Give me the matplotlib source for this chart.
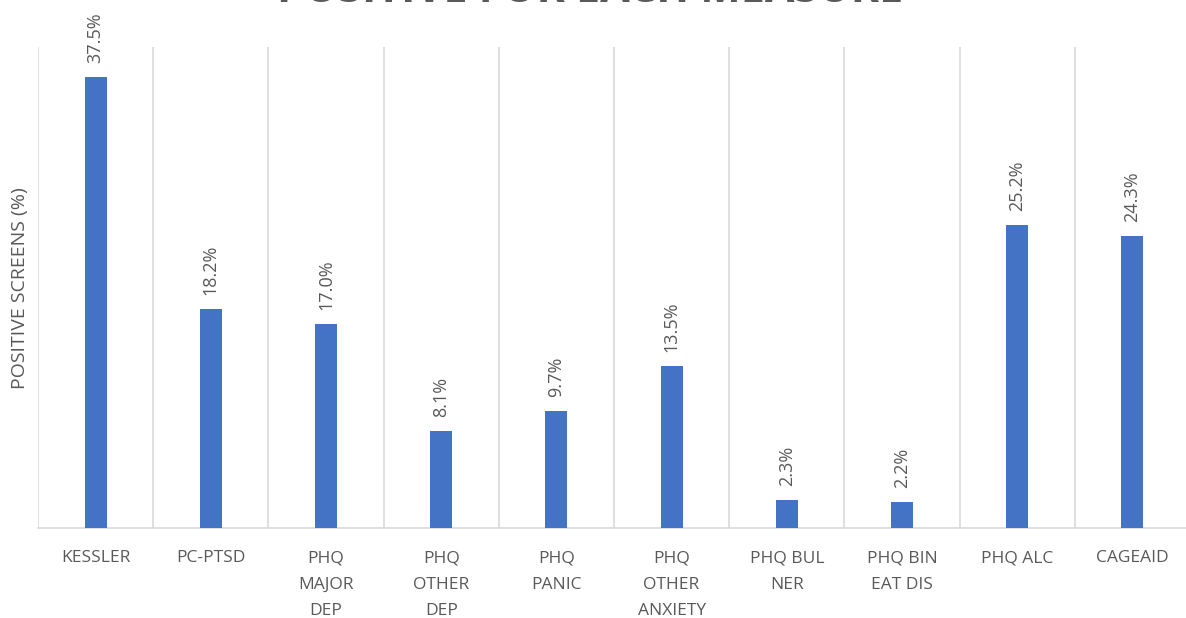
import matplotlib
matplotlib.use("Agg")
import matplotlib.pyplot as plt
import numpy as np

categories = ["KESSLER", "PC-PTSD", "PHQ\nMAJOR\nDEP", "PHQ\nOTHER\nDEP", "PHQ\nPANIC",
              "PHQ\nOTHER\nANXIETY", "PHQ BUL\nNER", "PHQ BIN\nEAT DIS", "PHQ ALC", "CAGEAID"]
values = [37.5, 18.2, 17.0, 8.1, 9.7, 13.5, 2.3, 2.2, 25.2, 24.3]
value_labels = ["37.5%", "18.2%", "17.0%", "8.1%", "9.7%", "13.5%", "2.3%", "2.2%", "25.2%", "24.3%"]
title = "POSITIVE FOR EACH MEASURE"
ylabel = "POSITIVE SCREENS (%)"

plt.rcParams['font.family'] = ['Open Sans', 'DejaVu Sans']
gray = "#595959"

W, H = 1186, 618
fig = plt.figure(figsize=(W / 100, H / 100), dpi=100)
left, right, bottom, top = 38, 1190, 528, 47
ax = fig.add_axes([left / W, (H - bottom) / H, (right - left) / W, (bottom - top) / H])

x = np.arange(len(categories))
ax.bar(x, values, width=0.19, color="#4472C4", zorder=3)
ax.set_xlim(-0.5, len(categories) - 0.5)
ax.set_ylim(0, 40)

for xi, v, lab in zip(x, values, value_labels):
    ax.annotate(lab, (xi, v), xytext=(0, 10), textcoords="offset points",
                rotation=90, ha="center", va="bottom", color=gray, fontsize=13)

# vertical gridlines at category boundaries
for b in np.arange(-0.5, len(categories) + 0.5, 1.0):
    ax.axvline(b, color="#d9d9d9", lw=1.2, zorder=1)

for s in ["top", "right", "left"]:
    ax.spines[s].set_visible(False)
ax.spines["bottom"].set_color("#d9d9d9")
ax.spines["bottom"].set_linewidth(1.2)

ax.set_yticks([])
ax.set_xticks(x)
ax.set_xticklabels(categories, fontsize=12.5, color=gray, linespacing=1.88, va="top")
ax.tick_params(axis="x", length=0, pad=16)

fig.text(20 / W, 1 - 288 / H, ylabel, rotation=90, ha="center", va="center",
         color=gray, fontsize=14)
fig.text(590 / W, 1 - 1.5 / H, title, ha="center", va="baseline", color=gray,
         fontsize=31, fontweight="bold")

fig.savefig("out.png", dpi=100)
